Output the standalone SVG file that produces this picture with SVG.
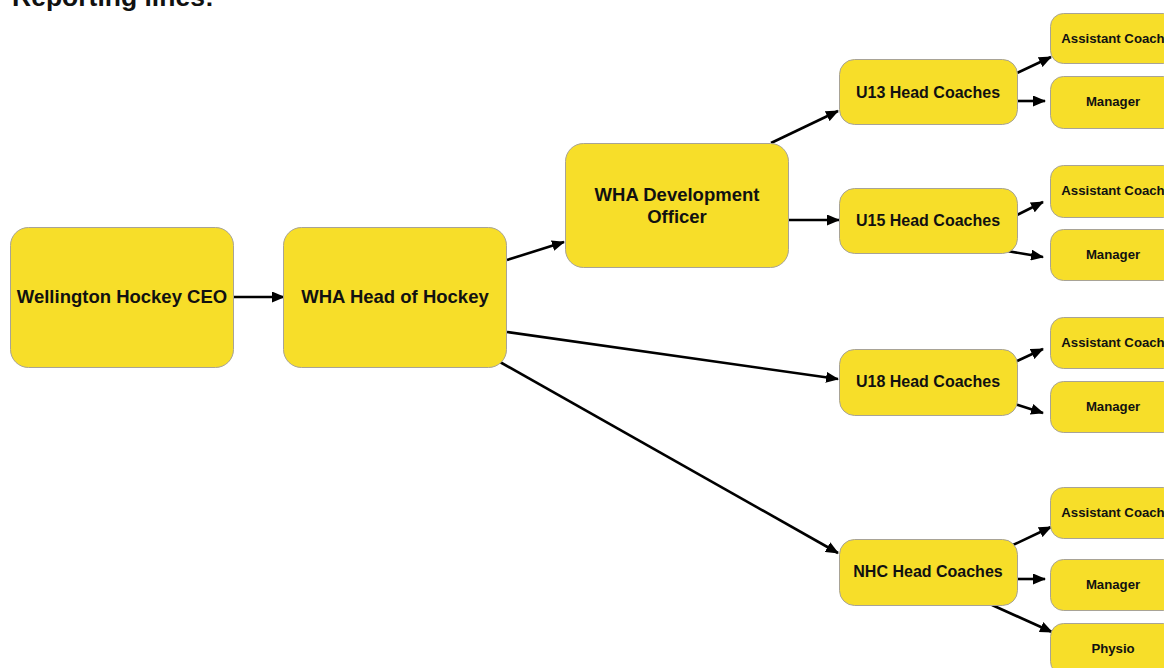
<svg xmlns="http://www.w3.org/2000/svg" width="1164" height="668" viewBox="0 0 1164 668">
<style>
.box{fill:#F7DE29;stroke:#A8A396;stroke-width:1}
.big{font-family:"Liberation Sans",Arial,sans-serif;font-weight:bold;font-size:18.5px;fill:#111;text-anchor:middle}
.mid{font-family:"Liberation Sans",Arial,sans-serif;font-weight:bold;font-size:16px;fill:#111;text-anchor:middle}
.sm{font-family:"Liberation Sans",Arial,sans-serif;font-weight:bold;font-size:13.2px;fill:#111;text-anchor:middle}
.title{font-family:"Liberation Sans",Arial,sans-serif;font-weight:bold;font-size:26.5px;fill:#111}
.c line{stroke:#000;stroke-width:2.6;marker-end:url(#ah)}
</style>
<defs>
<marker id="ah" viewBox="0 0 13 11" refX="12" refY="5.5" markerWidth="13" markerHeight="11" markerUnits="userSpaceOnUse" orient="auto">
<path d="M0,0 L13,5.5 L0,11 z" fill="#000"/>
</marker>
</defs>
<rect width="1164" height="668" fill="#fff"/>
<text class="title" x="12" y="6">Reporting lines:</text>

<g class="c" id="connectors">
<line x1="233" y1="297" x2="284" y2="297"/>
<line x1="507" y1="260" x2="564" y2="242"/>
<line x1="507" y1="332" x2="838" y2="379"/>
<line x1="500" y1="362" x2="838" y2="553"/>
<line x1="771" y1="143" x2="838" y2="111"/>
<line x1="788" y1="220" x2="839" y2="220"/>
<line x1="1017" y1="73" x2="1051" y2="57"/>
<line x1="1017" y1="101" x2="1045" y2="101"/>
<line x1="1017" y1="215" x2="1043" y2="202"/>
<line x1="1007" y1="251" x2="1043" y2="257"/>
<line x1="1015" y1="362" x2="1043" y2="349"/>
<line x1="1015" y1="404" x2="1043" y2="413"/>
<line x1="1013" y1="545" x2="1051" y2="527"/>
<line x1="1017" y1="579" x2="1045" y2="579"/>
<line x1="992" y1="605" x2="1052" y2="632"/>
</g>

<g id="ceo"><rect class="box" x="10.5" y="227.5" width="223" height="140" rx="18"/><text class="big" x="122" y="303">Wellington Hockey CEO</text></g>
<g id="head"><rect class="box" x="283.5" y="227.5" width="223" height="140" rx="18"/><text class="big" x="395" y="303">WHA Head of Hockey</text></g>
<g id="dev"><rect class="box" x="565.5" y="143.5" width="223" height="124" rx="18"/><text class="big" x="677" y="200.5">WHA Development</text><text class="big" x="677" y="222.5">Officer</text></g>

<g id="u13"><rect class="box" x="839.5" y="59.5" width="178" height="65" rx="15"/><text class="mid" x="928" y="98">U13 Head Coaches</text></g>
<g id="u15"><rect class="box" x="839.5" y="188.5" width="178" height="65" rx="15"/><text class="mid" x="928" y="226">U15 Head Coaches</text></g>
<g id="u18"><rect class="box" x="839.5" y="349.5" width="178" height="66" rx="15"/><text class="mid" x="928" y="387">U18 Head Coaches</text></g>
<g id="nhc"><rect class="box" x="839.5" y="539.5" width="178" height="66" rx="15"/><text class="mid" x="928" y="577">NHC Head Coaches</text></g>

<g id="u13-asst"><rect class="box" x="1050.5" y="13.5" width="126" height="50" rx="13"/><text class="sm" x="1113" y="43">Assistant Coach</text></g>
<g id="u13-mgr"><rect class="box" x="1050.5" y="76.5" width="126" height="52" rx="13"/><text class="sm" x="1113" y="106">Manager</text></g>
<g id="u15-asst"><rect class="box" x="1050.5" y="165.5" width="126" height="52" rx="13"/><text class="sm" x="1113" y="195">Assistant Coach</text></g>
<g id="u15-mgr"><rect class="box" x="1050.5" y="229.5" width="126" height="51" rx="13"/><text class="sm" x="1113" y="259">Manager</text></g>
<g id="u18-asst"><rect class="box" x="1050.5" y="317.5" width="126" height="51" rx="13"/><text class="sm" x="1113" y="347">Assistant Coach</text></g>
<g id="u18-mgr"><rect class="box" x="1050.5" y="381.5" width="126" height="51" rx="13"/><text class="sm" x="1113" y="411">Manager</text></g>
<g id="nhc-asst"><rect class="box" x="1050.5" y="487.5" width="126" height="51" rx="13"/><text class="sm" x="1113" y="517">Assistant Coach</text></g>
<g id="nhc-mgr"><rect class="box" x="1050.5" y="559.5" width="126" height="51" rx="13"/><text class="sm" x="1113" y="589">Manager</text></g>
<g id="nhc-physio"><rect class="box" x="1050.5" y="623.5" width="126" height="51" rx="13"/><text class="sm" x="1113" y="653">Physio</text></g>
</svg>
